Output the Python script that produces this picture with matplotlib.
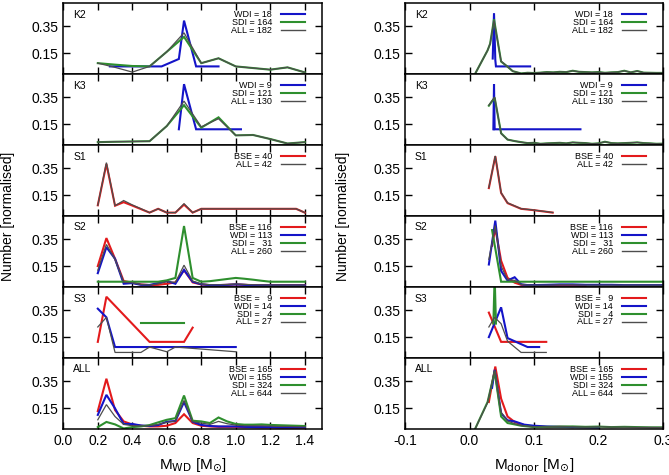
import matplotlib
matplotlib.use("Agg")
import matplotlib.pyplot as plt

plt.rcParams['font.family'] = ['Liberation Sans', 'DejaVu Sans']
plt.rcParams['mathtext.fontset'] = 'dejavusans'

FS = '\u2007'  # figure space, used to pad the counts

# ---------------- left column: white dwarf mass ----------------
grid10 = [0.2, 0.3, 0.4, 0.5, 0.6, 0.7, 0.8, 0.9, 1.0, 1.1, 1.2, 1.3, 1.4]
grid05 = [0.2, 0.25, 0.3, 0.35, 0.4, 0.45, 0.5, 0.55, 0.6, 0.65, 0.7, 0.75, 0.8,
          0.85, 0.9, 0.95, 1.0, 1.05, 1.1, 1.15, 1.2, 1.25, 1.3, 1.35, 1.4]

k2l_wdi_x = [0.27, 0.57, 0.67, 0.70, 0.77, 0.90]
k2l_wdi = [0.052, 0.052, 0.107, 0.39, 0.052, 0.052]
k2l_sdi = [0.076, 0.065, 0.055, 0.052, 0.16, 0.27, 0.076, 0.112, 0.052, 0.04, 0.028, 0.045, 0.008]
k2l_all = [0.076, 0.045, 0.01, 0.052, 0.16, 0.30, 0.076, 0.112, 0.052, 0.04, 0.028, 0.045, 0.008]

k3l_wdi_x = [0.67, 0.70, 0.77, 1.03]
k3l_wdi = [0.112, 0.445, 0.112, 0.112]
k3l_sdi = [0.017, 0.02, 0.022, 0.024, 0.136, 0.29, 0.124, 0.20, 0.067, 0.07, 0.04, 0.007, 0.017]
k3l_all = [0.017, 0.02, 0.022, 0.024, 0.136, 0.32, 0.13, 0.19, 0.067, 0.07, 0.04, 0.007, 0.017]

s1l_bse = [0.075, 0.38, 0.072, 0.098, 0.073, 0.047, 0.021, 0.049, 0.021, 0.021, 0.08, 0.021, 0.049,
           0.049, 0.049, 0.049, 0.049, 0.049, 0.049, 0.049, 0.049, 0.049, 0.049, 0.049, 0.021]
s1l_all = [0.075, 0.39, 0.072, 0.11, 0.078, 0.05, 0.021, 0.049, 0.021, 0.021, 0.087, 0.021, 0.049,
           0.049, 0.049, 0.049, 0.049, 0.049, 0.049, 0.049, 0.049, 0.049, 0.049, 0.049, 0.021]

s2l_bse = [0.15, 0.357, 0.204, 0.04, 0.028, 0.015, 0.01, 0.012, 0.02, 0.03, 0.12, 0.03, 0.015,
           0.01, 0.01, 0.012, 0.015, 0.012, 0.01, 0.01, 0.01, 0.01, 0.01, 0.01, 0.01]
s2l_wdi = [0.098, 0.29, 0.204, 0.02, 0.025, 0.012, 0.011, 0.025, 0.04, 0.02, 0.122, 0.035, 0.016,
           0.01, 0.01, 0.012, 0.015, 0.012, 0.008, 0.008, 0.008, 0.008, 0.008, 0.008, 0.008]
s2l_sdi = [0.035, 0.035, 0.035, 0.035, 0.035, 0.035, 0.035, 0.035, 0.045, 0.063, 0.446, 0.063, 0.035,
           0.039, 0.047, 0.055, 0.063, 0.057, 0.05, 0.042, 0.035, 0.035, 0.035, 0.035, 0.035]
s2l_all = [0.12, 0.31, 0.2, 0.03, 0.027, 0.014, 0.011, 0.02, 0.035, 0.03, 0.157, 0.04, 0.018,
           0.012, 0.012, 0.014, 0.018, 0.015, 0.012, 0.011, 0.01, 0.01, 0.01, 0.01, 0.01]

s3l_bse_x = [0.2, 0.25, 0.5, 0.7, 0.75]
s3l_bse = [0.115, 0.448, 0.115, 0.115, 0.22]
s3l_wdi_x = [0.2, 0.25, 0.3, 1.0]
s3l_wdi = [0.36, 0.296, 0.077, 0.077]
s3l_sdi_x = [0.45, 0.7]
s3l_sdi = [0.253, 0.253]
s3l_all_x = [0.2, 0.25, 0.3, 0.45, 0.5, 0.6, 0.65, 1.0]
s3l_all = [0.225, 0.296, 0.037, 0.037, 0.077, 0.042, 0.077, 0.042]

alll_bse = [0.128, 0.367, 0.136, 0.052, 0.029, 0.02, 0.015, 0.015, 0.02, 0.04, 0.105, 0.04, 0.02,
            0.015, 0.012, 0.012, 0.012, 0.01, 0.01, 0.008, 0.008, 0.006, 0.006, 0.005, 0.005]
alll_wdi = [0.1, 0.248, 0.148, 0.033, 0.033, 0.022, 0.018, 0.025, 0.05, 0.055, 0.195, 0.05, 0.026,
            0.018, 0.015, 0.015, 0.015, 0.012, 0.01, 0.01, 0.01, 0.008, 0.008, 0.008, 0.008]
alll_sdi = [0.01, 0.048, 0.03, 0.0, 0.01, 0.015, 0.025, 0.045, 0.064, 0.076, 0.243, 0.057, 0.052,
            0.04, 0.081, 0.052, 0.033, 0.028, 0.028, 0.03, 0.026, 0.024, 0.022, 0.02, 0.018]
alll_all = [0.064, 0.176, 0.088, 0.03, 0.02, 0.018, 0.02, 0.03, 0.045, 0.055, 0.207, 0.05, 0.04,
            0.03, 0.052, 0.035, 0.025, 0.02, 0.02, 0.02, 0.018, 0.015, 0.015, 0.013, 0.012]

# ---------------- right column: donor mass ----------------
k2r_wdi_x = [0.036, 0.038, 0.040, 0.041, 0.094]
k2r_wdi = [0.11, 0.445, 0.10, 0.052, 0.052]
k2r_x = [0.009, 0.028, 0.032, 0.038, 0.049, 0.059, 0.067, 0.08, 0.09, 0.1, 0.11, 0.12, 0.13, 0.14, 0.15,
         0.16, 0.17, 0.18, 0.19, 0.2, 0.21, 0.22, 0.23, 0.24, 0.25, 0.26, 0.27, 0.28, 0.29, 0.3]
k2r_sdi = [0.0, 0.17, 0.22, 0.40, 0.088, 0.05, 0.017, 0.0, 0.005, 0.003, 0.006, 0.01, 0.008, 0.012, 0.01,
           0.02, 0.012, 0.01, 0.008, 0.01, 0.005, 0.008, 0.01, 0.02, 0.008, 0.018, 0.006, 0.005, 0.004, 0.004]
k2r_all = [0.0, 0.17, 0.22, 0.39, 0.09, 0.05, 0.017, 0.0, 0.005, 0.003, 0.006, 0.01, 0.008, 0.012, 0.01,
           0.02, 0.012, 0.01, 0.008, 0.01, 0.005, 0.008, 0.01, 0.02, 0.008, 0.018, 0.006, 0.005, 0.004, 0.004]

k3r_wdi_x = [0.037, 0.038, 0.039, 0.172]
k3r_wdi = [0.112, 0.445, 0.112, 0.112]
k3r_x = [0.03, 0.039, 0.049, 0.059, 0.07, 0.08, 0.09, 0.1, 0.11, 0.12, 0.13, 0.14, 0.15, 0.16,
         0.17, 0.18, 0.19, 0.2, 0.21, 0.22, 0.23, 0.24, 0.25, 0.26, 0.27, 0.28, 0.29, 0.3]
k3r_sdi = [0.286, 0.345, 0.083, 0.036, 0.025, 0.017, 0.01, 0.012, 0.005, 0.008, 0.01, 0.012, 0.008, 0.015,
           0.012, 0.01, 0.005, 0.008, 0.02, 0.01, 0.008, 0.01, 0.012, 0.015, 0.01, 0.008, 0.005, 0.006]
k3r_all = [0.29, 0.35, 0.08, 0.036, 0.025, 0.017, 0.01, 0.012, 0.005, 0.008, 0.01, 0.012, 0.008, 0.015,
           0.012, 0.01, 0.005, 0.008, 0.02, 0.01, 0.008, 0.01, 0.012, 0.015, 0.01, 0.008, 0.005, 0.006]

s1r_x = [0.03, 0.04, 0.049, 0.059, 0.08, 0.098, 0.129]
s1r_bse = [0.202, 0.437, 0.166, 0.091, 0.049, 0.04, 0.021]
s1r_all = [0.205, 0.44, 0.168, 0.093, 0.05, 0.041, 0.022]

s2r_x = [0.03, 0.04, 0.049, 0.059, 0.07, 0.08, 0.09, 0.1, 0.12, 0.14, 0.16, 0.18, 0.2, 0.22,
         0.24, 0.26, 0.28, 0.3]
s2r_bse_x = [0.035, 0.04, 0.049, 0.059, 0.07, 0.08, 0.09, 0.1, 0.12, 0.14, 0.16, 0.18]
s2r_bse = [0.30, 0.43, 0.19, 0.063, 0.028, 0.012, 0.01, 0.008, 0.006, 0.01, 0.008, 0.005]
s2r_wdi = [0.162, 0.486, 0.115, 0.044, 0.068, 0.016, 0.01, 0.01, 0.012, 0.015, 0.015, 0.012, 0.012,
           0.012, 0.01, 0.01, 0.01, 0.01]
s2r_sdi_x = [0.035, 0.049, 0.3]
s2r_sdi = [0.416, 0.035, 0.035]
s2r_all = [0.2, 0.45, 0.15, 0.05, 0.045, 0.015, 0.01, 0.01, 0.01, 0.012, 0.012, 0.01, 0.01,
           0.01, 0.01, 0.01, 0.01, 0.01]

s3r_bse_x = [0.03, 0.049, 0.119]
s3r_bse = [0.331, 0.115, 0.115]
s3r_wdi_x = [0.03, 0.049, 0.059, 0.09, 0.108]
s3r_wdi = [0.15, 0.37, 0.143, 0.077, 0.077]
s3r_sdi_x = [0.037, 0.039, 0.041]
s3r_sdi = [0.25, 0.60, 0.25]
s3r_all_x = [0.03, 0.039, 0.049, 0.059, 0.08, 0.119]
s3r_all = [0.225, 0.296, 0.249, 0.12, 0.037, 0.037]

allr_x = [0.009, 0.028, 0.039, 0.049, 0.059, 0.07, 0.08, 0.09, 0.1, 0.12, 0.14, 0.16, 0.18, 0.2,
          0.22, 0.24, 0.26, 0.28, 0.3]
allr_sdi = [0.0, 0.195, 0.42, 0.088, 0.04, 0.03, 0.02, 0.015, 0.01, 0.012, 0.014, 0.015, 0.012, 0.014,
            0.01, 0.012, 0.01, 0.008, 0.008]
allr_all = [0.0, 0.19, 0.43, 0.12, 0.055, 0.035, 0.022, 0.016, 0.012, 0.012, 0.012, 0.012, 0.01, 0.012,
            0.01, 0.01, 0.008, 0.008, 0.007]
allr_bse_x = [0.03, 0.04, 0.049, 0.059, 0.07, 0.08, 0.09, 0.1, 0.12, 0.14, 0.16]
allr_bse = [0.195, 0.457, 0.22, 0.088, 0.048, 0.03, 0.02, 0.015, 0.01, 0.012, 0.01]
allr_wdi_x = [0.035, 0.039, 0.049, 0.059, 0.07, 0.085, 0.1, 0.12, 0.14, 0.16, 0.18, 0.2]
allr_wdi = [0.3, 0.433, 0.112, 0.06, 0.052, 0.028, 0.02, 0.015, 0.012, 0.01, 0.008, 0.006]

panel_names = ['K2', 'K3', 'S1', 'S2', 'S3', 'ALL']
legend_labels = [
    ['WDI = 18', 'SDI = 164', 'ALL = 182'],
    ['WDI = 9', 'SDI = 121', 'ALL = 130'],
    ['BSE = 40', 'ALL = 42'],
    ['BSE = 116', 'WDI = 113', 'SDI = ' + FS + '31', 'ALL = 260'],
    ['BSE = ' + FS + '9', 'WDI = 14', 'SDI = ' + FS + '4', 'ALL = 27'],
    ['BSE = 165', 'WDI = 155', 'SDI = 324', 'ALL = 644'],
]

RED = '#e31a1c'
BLUE = '#1414c8'
GREEN = '#2e8f2e'
GRAY = '#4d4d4d'
style = {'BSE': (RED, 1.5), 'WDI': (BLUE, 1.5), 'SDI': (GREEN, 1.5), 'ALL': (GRAY, 0.9)}

left_series = [
    [('WDI', k2l_wdi_x, k2l_wdi), ('SDI', grid10, k2l_sdi), ('ALL', grid10, k2l_all)],
    [('WDI', k3l_wdi_x, k3l_wdi), ('SDI', grid10, k3l_sdi), ('ALL', grid10, k3l_all)],
    [('BSE', grid05, s1l_bse), ('ALL', grid05, s1l_all)],
    [('BSE', grid05, s2l_bse), ('WDI', grid05, s2l_wdi), ('SDI', grid05, s2l_sdi), ('ALL', grid05, s2l_all)],
    [('BSE', s3l_bse_x, s3l_bse), ('WDI', s3l_wdi_x, s3l_wdi), ('SDI', s3l_sdi_x, s3l_sdi), ('ALL', s3l_all_x, s3l_all)],
    [('BSE', grid05, alll_bse), ('WDI', grid05, alll_wdi), ('SDI', grid05, alll_sdi), ('ALL', grid05, alll_all)],
]
right_series = [
    [('WDI', k2r_wdi_x, k2r_wdi), ('SDI', k2r_x, k2r_sdi), ('ALL', k2r_x, k2r_all)],
    [('WDI', k3r_wdi_x, k3r_wdi), ('SDI', k3r_x, k3r_sdi), ('ALL', k3r_x, k3r_all)],
    [('BSE', s1r_x, s1r_bse), ('ALL', s1r_x, s1r_all)],
    [('BSE', s2r_bse_x, s2r_bse), ('WDI', s2r_x, s2r_wdi), ('SDI', s2r_sdi_x, s2r_sdi), ('ALL', s2r_x, s2r_all)],
    [('BSE', s3r_bse_x, s3r_bse), ('WDI', s3r_wdi_x, s3r_wdi), ('SDI', s3r_sdi_x, s3r_sdi), ('ALL', s3r_all_x, s3r_all)],
    [('BSE', allr_bse_x, allr_bse), ('WDI', allr_wdi_x, allr_wdi), ('SDI', allr_x, allr_sdi), ('ALL', allr_x, allr_all)],
]

W, H = 669, 475
fig = plt.figure(figsize=(W / 100, H / 100), dpi=100)

ph = 71.0
bottom0 = 429.0


def make_column(x0, x1, series, xlim, xticks, xticklabels, xlabel):
    axw = x1 - x0
    for i in range(6):
        top = bottom0 - ph * (6 - i)
        ax = fig.add_axes([x0 / W, 1 - (top + ph) / H, axw / W, ph / H])
        for key, xs, ys in series[i]:
            c, lw = style[key]
            ax.plot(xs, ys, color=c, lw=lw, solid_joinstyle='miter')
        ax.set_xlim(*xlim)
        ax.set_ylim(-0.004, 0.52)
        ax.set_yticks([0.15, 0.35])
        ax.set_yticklabels(['0.15', '0.35'])
        ax.set_xticks(xticks)
        ax.tick_params(direction='in', length=5, width=1, top=True, right=True, labelsize=10)
        for sp in ax.spines.values():
            sp.set_linewidth(1.1)
        if i < 5:
            ax.set_xticklabels([])
        else:
            ax.set_xticklabels(xticklabels)
            ax.set_xlabel(xlabel, fontsize=11, labelpad=6)
        ax.text(10 / axw, 1 - 11.5 / ph, panel_names[i], transform=ax.transAxes,
                fontsize=7.5, ha='left', va='center')
        # legend, drawn gnuplot-style: right-aligned text then the sample line
        for j, (key, xs, ys) in enumerate(series[i]):
            yy = 1 - (11.3 + 7.9 * j) / ph
            c, lw = style[key]
            ax.text((axw - 50) / axw, yy, legend_labels[i][j], transform=ax.transAxes,
                    fontsize=6.5, ha='right', va='center')
            ax.plot([(axw - 41) / axw, (axw - 17) / axw], [yy, yy], transform=ax.transAxes,
                    color=c, lw=lw if key != 'ALL' else 1.0, clip_on=False)


make_column(63.3, 322.0, left_series, (0.0, 1.5), [0.0, 0.2, 0.4, 0.6, 0.8, 1.0, 1.2, 1.4],
            ['0.0', '0.2', '0.4', '0.6', '0.8', '1.0', '1.2', '1.4'],
            r'M$_{\mathrm{WD}}$ [M$_{\odot}$]')
make_column(405.0, 663.0, right_series, (-0.1, 0.3), [-0.1, 0.0, 0.1, 0.2, 0.3],
            ['-0.1', '0.0', '0.1', '0.2', '0.3'],
            r'M$_{\mathrm{donor}}$ [M$_{\odot}$]')

fig.text(8 / W, 1 - 216 / H, 'Number [normalised]', rotation=90, ha='center', va='center', fontsize=10)
fig.text(343 / W, 1 - 216 / H, 'Number [normalised]', rotation=90, ha='center', va='center', fontsize=10)

fig.savefig('out.png', dpi=100)
